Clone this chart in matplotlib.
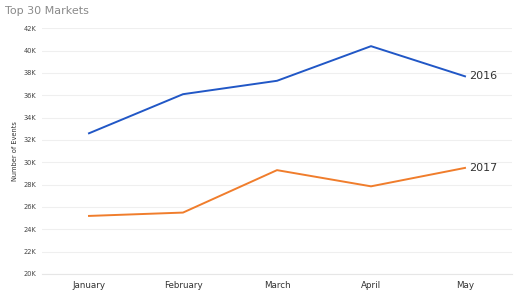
import matplotlib.pyplot as plt
import matplotlib as mpl

mpl.rcParams.update({'font.family': 'DejaVu Sans'})

months = ['January', 'February', 'March', 'April', 'May']
events_2016 = [32.6, 36.1, 37.3, 40.4, 37.7]   # thousands
events_2017 = [25.2, 25.5, 29.3, 27.85, 29.5]
yticks = list(range(20, 43, 2))

fig = plt.figure(figsize=(5.32, 2.97), dpi=100)
ax = fig.add_axes([42/532, 1 - 274/297, 470/532, (274 - 28.3)/297])

x = range(len(months))
ax.plot(x, events_2016, color='#2157c6', linewidth=1.4)
ax.plot(x, events_2017, color='#f07d2c', linewidth=1.4)
ax.text(4.04, events_2016[-1], '2016', fontsize=8, color='#333333', va='center', ha='left')
ax.text(4.04, events_2017[-1], '2017', fontsize=8, color='#333333', va='center', ha='left')

ax.set_xlim(-0.5, 4.5)
ax.set_ylim(20, 42)
ax.set_yticks(yticks)
ax.set_yticklabels([f'{v}K' for v in yticks])
ax.set_xticks(list(x))
ax.set_xticklabels(months)
ax.tick_params(axis='y', length=0, labelsize=4.8, colors='#444444', pad=4)
ax.tick_params(axis='x', length=0, labelsize=6.3, colors='#333333', pad=5)
ax.grid(axis='y', color='#efefef', linewidth=0.8)
ax.set_axisbelow(True)
for s in ['top', 'right', 'left']:
    ax.spines[s].set_visible(False)
ax.spines['bottom'].set_color('#e6e6e6')
ax.spines['bottom'].set_linewidth(0.8)

ax.set_ylabel('Number of Events', fontsize=4.8, color='#333333', labelpad=4)
fig.text(5/532, 1 - 11/297, 'Top 30 Markets', fontsize=8, color='#8a8a8a', va='center', ha='left')

fig.savefig('out.png', dpi=100)
